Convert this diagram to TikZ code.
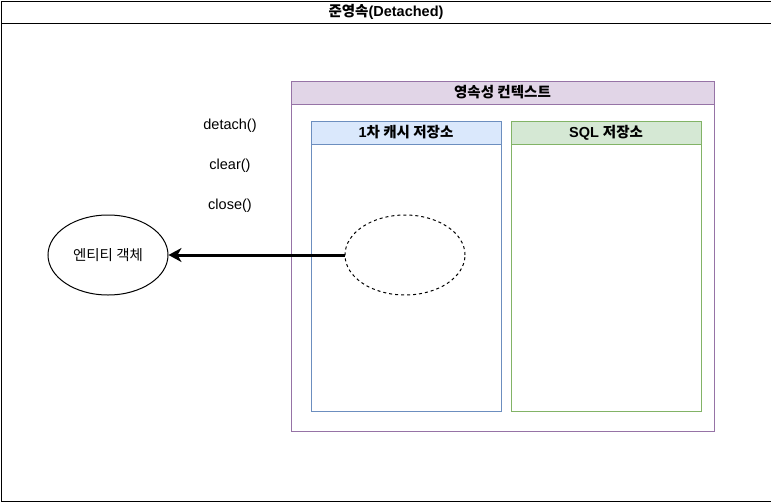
\documentclass[tikz,border=0pt]{standalone}
\usepackage{fontspec}
\setmainfont{Liberation Sans}
\newfontfamily\cjk{Noto Sans CJK KR}
\usetikzlibrary{arrows.meta,shapes.geometric}
\definecolor{pfill}{HTML}{E1D5E7}
\definecolor{pline}{HTML}{9673A6}
\definecolor{bfill}{HTML}{DAE8FC}
\definecolor{bline}{HTML}{6C8EBF}
\definecolor{gfill}{HTML}{D5E8D4}
\definecolor{gline}{HTML}{82B366}
\tikzset{
  lane/.style={draw, line width=1pt, inner sep=0pt, anchor=north west},
  hdr/.style={draw, line width=1pt, inner sep=0pt, anchor=north west, font=\fontsize{14.5}{17}\selectfont\bfseries},
  lbl/.style={font=\fontsize{14.5}{17}\selectfont, inner sep=0pt},
  ell/.style={ellipse, draw, line width=1pt, minimum width=120pt, minimum height=80pt, inner sep=0pt, font=\fontsize{14.5}{17}\selectfont},
}
\begin{document}
\begin{tikzpicture}[x=1pt,y=-1pt]
\useasboundingbox (0,0) rectangle (771,501);
\fill[white] (0,0) rectangle (771,501);
% outer frame
\node[lane, minimum width=770pt, minimum height=500pt] (outer) at (0.5,0.5) {};
\node[hdr, minimum width=770pt, minimum height=22pt] (outerh) at (0.5,0.5) {{\cjk\bfseries 준영속}(Detached)};
% persistence context
\node[lane, draw=pline, minimum width=423pt, minimum height=350pt] (pc) at (290.5,80.5) {};
\node[hdr, draw=pline, fill=pfill, minimum width=423pt, minimum height=23pt] (pch) at (290.5,80.5) {\cjk\bfseries 영속성 컨텍스트};
% first-level cache
\node[lane, draw=bline, minimum width=190pt, minimum height=290pt] (cache) at (310.5,120.5) {};
\node[hdr, draw=bline, fill=bfill, minimum width=190pt, minimum height=23pt] (cacheh) at (310.5,120.5) {1{\cjk\bfseries 차 캐시 저장소}};
% SQL store
\node[lane, draw=gline, minimum width=190pt, minimum height=290pt] (sql) at (510.5,120.5) {};
\node[hdr, draw=gline, fill=gfill, minimum width=190pt, minimum height=23pt] (sqlh) at (510.5,120.5) {SQL {\cjk\bfseries 저장소}};
% labels
\node[lbl] (l1) at (230,126) {detach()};
\node[lbl] (l2) at (230,166) {clear()};
\node[lbl] (l3) at (230,206) {close()};
% ellipses
\node[ell] (entity) at (108,255) {\cjk 엔티티 객체};
\node[ell, dash pattern=on 3pt off 3pt] (ghost) at (405,255) {};
\draw[line width=3pt, -{Stealth[length=13pt,width=14pt,inset=4pt]}] (ghost.west) -- (entity.east);
\end{tikzpicture}
\end{document}
